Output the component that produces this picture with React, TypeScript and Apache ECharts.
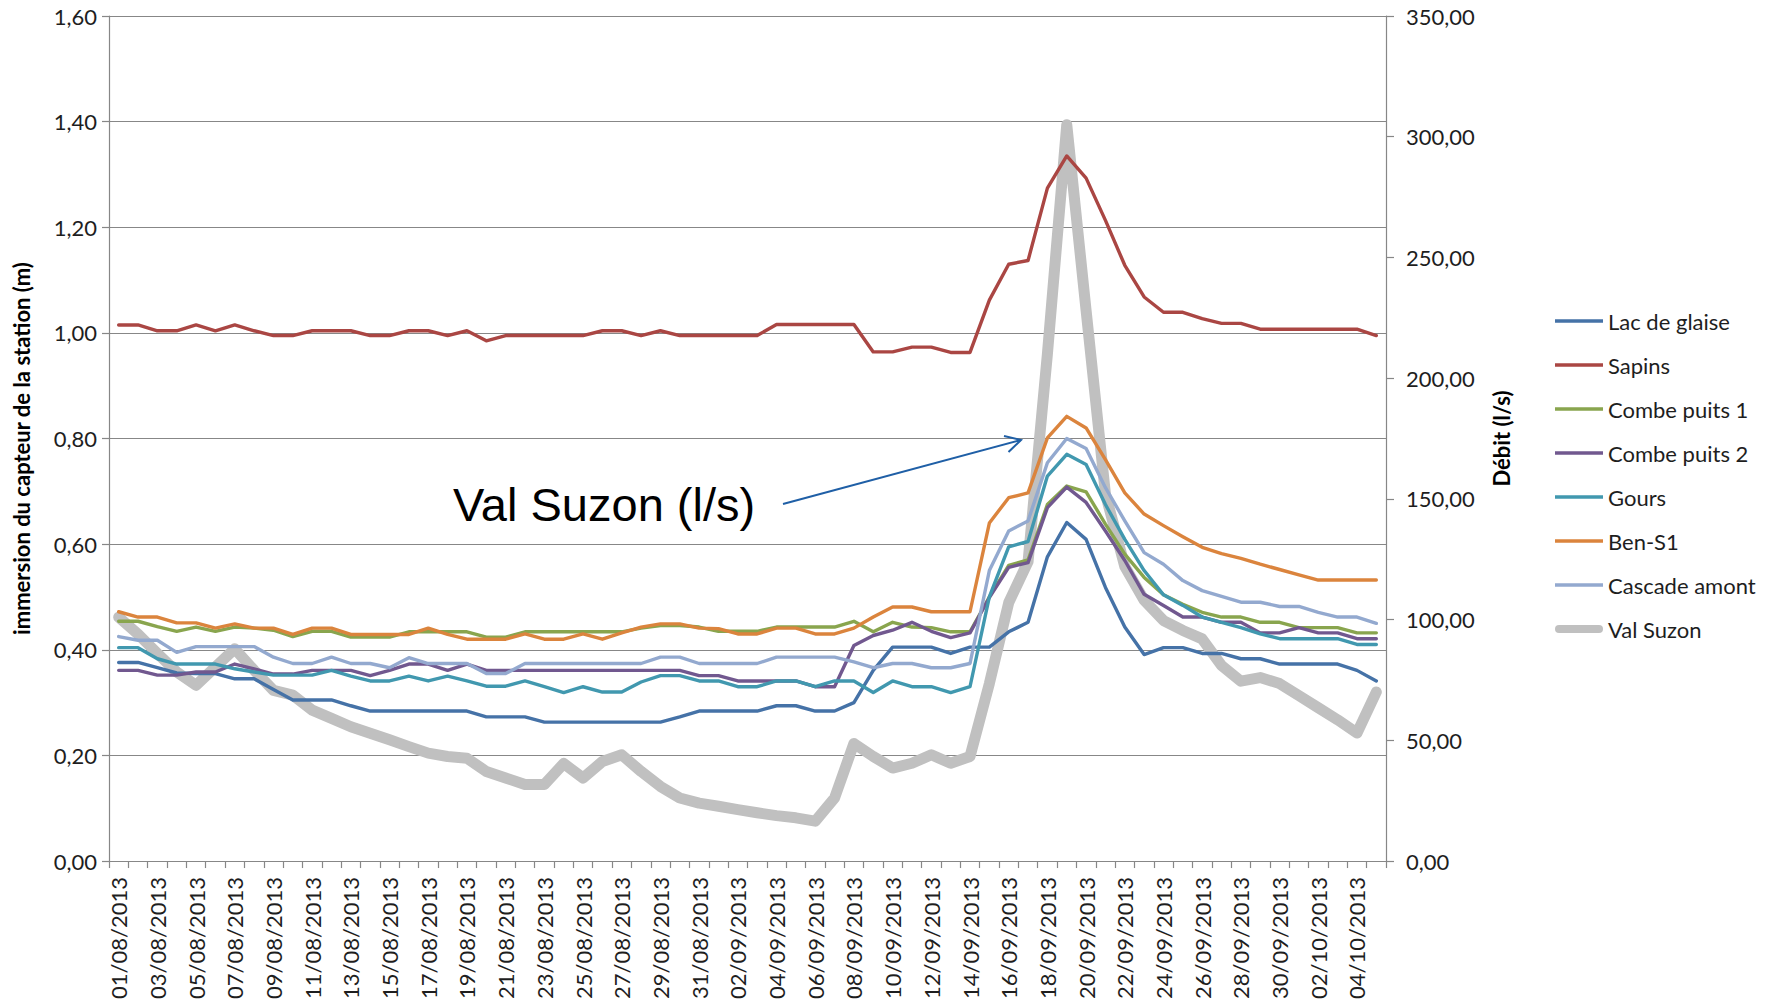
import React, { useEffect, useRef } from 'react';
import * as echarts from 'echarts';

const dates = [
  '01/08/2013', '02/08/2013', '03/08/2013', '04/08/2013', '05/08/2013', '06/08/2013', '07/08/2013', '08/08/2013',
  '09/08/2013', '10/08/2013', '11/08/2013', '12/08/2013', '13/08/2013', '14/08/2013', '15/08/2013', '16/08/2013',
  '17/08/2013', '18/08/2013', '19/08/2013', '20/08/2013', '21/08/2013', '22/08/2013', '23/08/2013', '24/08/2013',
  '25/08/2013', '26/08/2013', '27/08/2013', '28/08/2013', '29/08/2013', '30/08/2013', '31/08/2013',
  '01/09/2013', '02/09/2013', '03/09/2013', '04/09/2013', '05/09/2013', '06/09/2013', '07/09/2013', '08/09/2013',
  '09/09/2013', '10/09/2013', '11/09/2013', '12/09/2013', '13/09/2013', '14/09/2013', '15/09/2013', '16/09/2013',
  '17/09/2013', '18/09/2013', '19/09/2013', '20/09/2013', '21/09/2013', '22/09/2013', '23/09/2013', '24/09/2013',
  '25/09/2013', '26/09/2013', '27/09/2013', '28/09/2013', '29/09/2013', '30/09/2013',
  '01/10/2013', '02/10/2013', '03/10/2013', '04/10/2013', '05/10/2013',
];

const lacDeGlaise = [
  0.376, 0.376, 0.366, 0.356, 0.355, 0.355, 0.345, 0.345, 0.325, 0.305, 0.305, 0.305, 0.294, 0.284, 0.284, 0.284,
  0.284, 0.284, 0.284, 0.273, 0.273, 0.273, 0.263, 0.263, 0.263, 0.263, 0.263, 0.263, 0.263, 0.273, 0.284, 0.284,
  0.284, 0.284, 0.294, 0.294, 0.284, 0.284, 0.300, 0.361, 0.405, 0.405, 0.405, 0.393, 0.405, 0.405, 0.434, 0.452,
  0.576, 0.641, 0.609, 0.518, 0.443, 0.391, 0.404, 0.404, 0.393, 0.393, 0.383, 0.383, 0.373, 0.373, 0.373, 0.373,
  0.361, 0.341,
];

const sapins = [
  1.015, 1.015, 1.004, 1.004, 1.015, 1.004, 1.015, 1.004, 0.995, 0.995, 1.004, 1.004, 1.004, 0.995, 0.995, 1.004,
  1.004, 0.995, 1.004, 0.985, 0.995, 0.995, 0.995, 0.995, 0.995, 1.004, 1.004, 0.995, 1.004, 0.995, 0.995, 0.995,
  0.995, 0.995, 1.016, 1.016, 1.016, 1.016, 1.016, 0.964, 0.964, 0.973, 0.973, 0.963, 0.963, 1.062, 1.130, 1.137,
  1.274, 1.335, 1.293, 1.213, 1.128, 1.068, 1.039, 1.039, 1.027, 1.018, 1.018, 1.007, 1.007, 1.007, 1.007, 1.007,
  1.007, 0.995,
];

const combePuits1 = [
  0.454, 0.454, 0.444, 0.435, 0.443, 0.435, 0.443, 0.441, 0.437, 0.425, 0.435, 0.435, 0.424, 0.424, 0.424, 0.434,
  0.434, 0.434, 0.434, 0.424, 0.424, 0.434, 0.434, 0.434, 0.434, 0.434, 0.434, 0.441, 0.446, 0.446, 0.443, 0.435,
  0.435, 0.435, 0.443, 0.443, 0.443, 0.443, 0.454, 0.434, 0.452, 0.443, 0.442, 0.434, 0.434, 0.500, 0.560, 0.570,
  0.675, 0.710, 0.699, 0.638, 0.581, 0.537, 0.504, 0.486, 0.471, 0.462, 0.462, 0.452, 0.452, 0.442, 0.442, 0.442,
  0.432, 0.432,
];

const combePuits2 = [
  0.361, 0.361, 0.352, 0.352, 0.358, 0.358, 0.373, 0.364, 0.354, 0.354, 0.361, 0.361, 0.361, 0.351, 0.361, 0.373,
  0.373, 0.361, 0.373, 0.361, 0.361, 0.361, 0.361, 0.361, 0.361, 0.361, 0.361, 0.361, 0.361, 0.361, 0.351, 0.351,
  0.341, 0.341, 0.341, 0.341, 0.330, 0.330, 0.408, 0.427, 0.437, 0.452, 0.435, 0.423, 0.432, 0.499, 0.556, 0.565,
  0.669, 0.708, 0.679, 0.625, 0.569, 0.505, 0.484, 0.462, 0.462, 0.452, 0.452, 0.432, 0.432, 0.442, 0.432, 0.432,
  0.421, 0.421,
];

const gours = [
  0.404, 0.404, 0.383, 0.373, 0.373, 0.373, 0.364, 0.358, 0.352, 0.352, 0.352, 0.361, 0.350, 0.341, 0.341, 0.350,
  0.341, 0.350, 0.341, 0.331, 0.331, 0.341, 0.330, 0.319, 0.330, 0.320, 0.320, 0.339, 0.351, 0.351, 0.341, 0.341,
  0.330, 0.330, 0.341, 0.341, 0.330, 0.341, 0.341, 0.319, 0.341, 0.330, 0.330, 0.319, 0.330, 0.500, 0.595, 0.605,
  0.729, 0.770, 0.751, 0.675, 0.609, 0.550, 0.504, 0.484, 0.462, 0.452, 0.442, 0.430, 0.421, 0.421, 0.421, 0.421,
  0.410, 0.410,
];

const benS1 = [
  0.472, 0.462, 0.462, 0.451, 0.451, 0.441, 0.449, 0.441, 0.441, 0.429, 0.441, 0.441, 0.429, 0.429, 0.429, 0.429,
  0.441, 0.429, 0.420, 0.420, 0.420, 0.430, 0.420, 0.420, 0.430, 0.420, 0.432, 0.443, 0.449, 0.449, 0.441, 0.440,
  0.430, 0.430, 0.441, 0.441, 0.430, 0.430, 0.441, 0.462, 0.481, 0.481, 0.472, 0.472, 0.472, 0.640, 0.688, 0.697,
  0.801, 0.842, 0.820, 0.760, 0.697, 0.657, 0.635, 0.614, 0.594, 0.582, 0.573, 0.562, 0.552, 0.542, 0.532, 0.532,
  0.532, 0.532,
];

const cascadeAmont = [
  0.425, 0.418, 0.418, 0.395, 0.406, 0.406, 0.406, 0.406, 0.386, 0.374, 0.374, 0.386, 0.374, 0.374, 0.366, 0.385,
  0.374, 0.374, 0.374, 0.355, 0.355, 0.374, 0.374, 0.374, 0.374, 0.374, 0.374, 0.374, 0.386, 0.386, 0.374, 0.374,
  0.374, 0.374, 0.386, 0.386, 0.386, 0.386, 0.377, 0.366, 0.374, 0.374, 0.366, 0.366, 0.374, 0.550, 0.625, 0.644,
  0.754, 0.800, 0.781, 0.707, 0.644, 0.584, 0.562, 0.531, 0.512, 0.501, 0.490, 0.490, 0.482, 0.482, 0.471, 0.462,
  0.462, 0.450,
];

const valSuzon = [
  101, 94, 86, 78.3, 72.8, 80.4, 87.9, 79, 70.7, 68.7, 62.5, 59.1, 55.6, 52.9, 50.2, 47.4,
  44.7, 43.3, 42.6, 37.1, 34.4, 31.7, 31.7, 40.4, 34.4, 41.2, 44, 37.1, 30.9, 26.1, 24, 22.7,
  21.3, 20, 18.8, 17.9, 16.5, 26.1, 48.7, 43.3, 38.5, 40.5, 44, 40.5, 43.3, 73.5, 107, 124,
  210, 305, 228, 152, 122, 108, 99.6, 95.5, 92, 81, 74.5, 76, 73.5, 68.5, 63.5, 58.5,
  53, 70,
];

const leftTicks = { min: 0, max: 1.6, interval: 0.2 };
const rightTicks = { min: 0, max: 350, interval: 50 };

const stationSeries = [
  { name: 'Lac de glaise', data: lacDeGlaise, color: '#4572A7' },
  { name: 'Sapins', data: sapins, color: '#AA4643' },
  { name: 'Combe puits 1', data: combePuits1, color: '#89A54E' },
  { name: 'Combe puits 2', data: combePuits2, color: '#71588F' },
  { name: 'Gours', data: gours, color: '#4198AF' },
  { name: 'Ben-S1', data: benS1, color: '#DB843D' },
  { name: 'Cascade amont', data: cascadeAmont, color: '#93A9CF' },
];

export default function App() {
  const ref = useRef<HTMLDivElement>(null);

  useEffect(() => {
    document.body.style.margin = '0';
    const chart = echarts.init(ref.current as HTMLDivElement, null, { renderer: 'svg' });
    const fmt = (v: number) => v.toFixed(2).replace('.', ',');
    const font = 'Lato';
    const textColor = '#1e1e1e';
    const gridColor = '#878787';

    const thinIcon = 'path://M0,0H48V3.5H0Z';
    const thickIcon = 'path://M4,0H44A4,4 0 0 1 44,8H4A4,4 0 0 1 4,0Z';

    const series: any[] = stationSeries.map((s) => ({
      name: s.name,
      type: 'line',
      yAxisIndex: 0,
      data: s.data,
      color: s.color,
      symbol: 'none',
      z: 3,
      lineStyle: { width: 3.4, color: s.color, cap: 'round', join: 'round' },
      emphasis: { disabled: true },
    }));
    series.push({
      name: 'Val Suzon',
      type: 'line',
      yAxisIndex: 1,
      data: valSuzon,
      color: '#C0C0C0',
      symbol: 'none',
      z: 2,
      lineStyle: { width: 11, color: '#C0C0C0', cap: 'round', join: 'round' },
      emphasis: { disabled: true },
    });

    chart.setOption({
      animation: false,
      backgroundColor: '#ffffff',
      grid: { left: 109, right: 393, top: 16, bottom: 134, containLabel: false },
      legend: {
        orient: 'vertical',
        left: 1550,
        top: 305,
        itemWidth: 48,
        itemHeight: 22,
        itemGap: 22,
        selectedMode: false,
        itemStyle: { borderWidth: 0 },
        textStyle: { fontFamily: font, fontSize: 22, color: textColor, padding: [0, 0, 0, 0] },
        data: [
          ...stationSeries.map((s) => ({ name: s.name, icon: thinIcon })),
          { name: 'Val Suzon', icon: thickIcon },
        ],
      },
      xAxis: {
        type: 'category',
        data: dates,
        boundaryGap: true,
        axisLine: { show: true, lineStyle: { color: gridColor, width: 1.2 } },
        axisTick: { show: true, interval: 0, length: 7, lineStyle: { color: gridColor, width: 1.2 } },
        axisLabel: {
          interval: 1,
          rotate: 90,
          margin: 16,
          fontFamily: font,
          fontSize: 22,
          color: textColor,
        },
        splitLine: { show: false },
      },
      yAxis: [
        {
          type: 'value',
          position: 'left',
          ...leftTicks,
          name: 'immersion du capteur de la station (m)',
          nameLocation: 'middle',
          nameGap: 77,
          nameTextStyle: {
            fontFamily: font,
            fontSize: 22,
            fontWeight: 'bold',
            color: '#000',
            padding: [0, 20, 0, 0],
          },
          axisLine: { show: true, lineStyle: { color: gridColor, width: 1.2 } },
          axisTick: { show: true, length: 7, lineStyle: { color: gridColor, width: 1.2 } },
          axisLabel: { formatter: fmt, margin: 12, fontFamily: font, fontSize: 22, color: textColor },
          splitLine: { show: true, lineStyle: { color: gridColor, width: 1.2 } },
        },
        {
          type: 'value',
          position: 'right',
          ...rightTicks,
          name: 'Débit (l/s)',
          nameLocation: 'middle',
          nameGap: 104,
          nameTextStyle: { fontFamily: font, fontSize: 22, fontWeight: 'bold', color: '#000' },
          axisLine: { show: true, lineStyle: { color: gridColor, width: 1.2 } },
          axisTick: { show: true, length: 8, lineStyle: { color: gridColor, width: 1.2 } },
          axisLabel: { formatter: fmt, margin: 20, fontFamily: font, fontSize: 22, color: textColor },
          splitLine: { show: false },
        },
      ],
      graphic: [
        {
          type: 'text',
          x: 453,
          y: 504,
          z: 10,
          style: {
            text: 'Val Suzon (l/s)',
            fontFamily: '"Liberation Sans", Arial, sans-serif',
            fontSize: 47,
            fill: '#000',
            align: 'left',
            verticalAlign: 'middle',
          },
        },
        {
          type: 'line',
          z: 10,
          shape: { x1: 783, y1: 504, x2: 1021, y2: 440 },
          style: { stroke: '#1F5FA6', lineWidth: 2 },
        },
        {
          type: 'polyline',
          z: 10,
          shape: { points: [[1004, 436], [1021, 440], [1008.5, 452]] },
          style: { stroke: '#1F5FA6', lineWidth: 2, fill: null },
        },
      ],
      series,
    });

    return () => chart.dispose();
  }, []);

  return (
    <div
      ref={ref}
      style={{ position: 'absolute', left: 0, top: 0, width: 1779, height: 1002, background: '#fff' }}
    />
  );
}
